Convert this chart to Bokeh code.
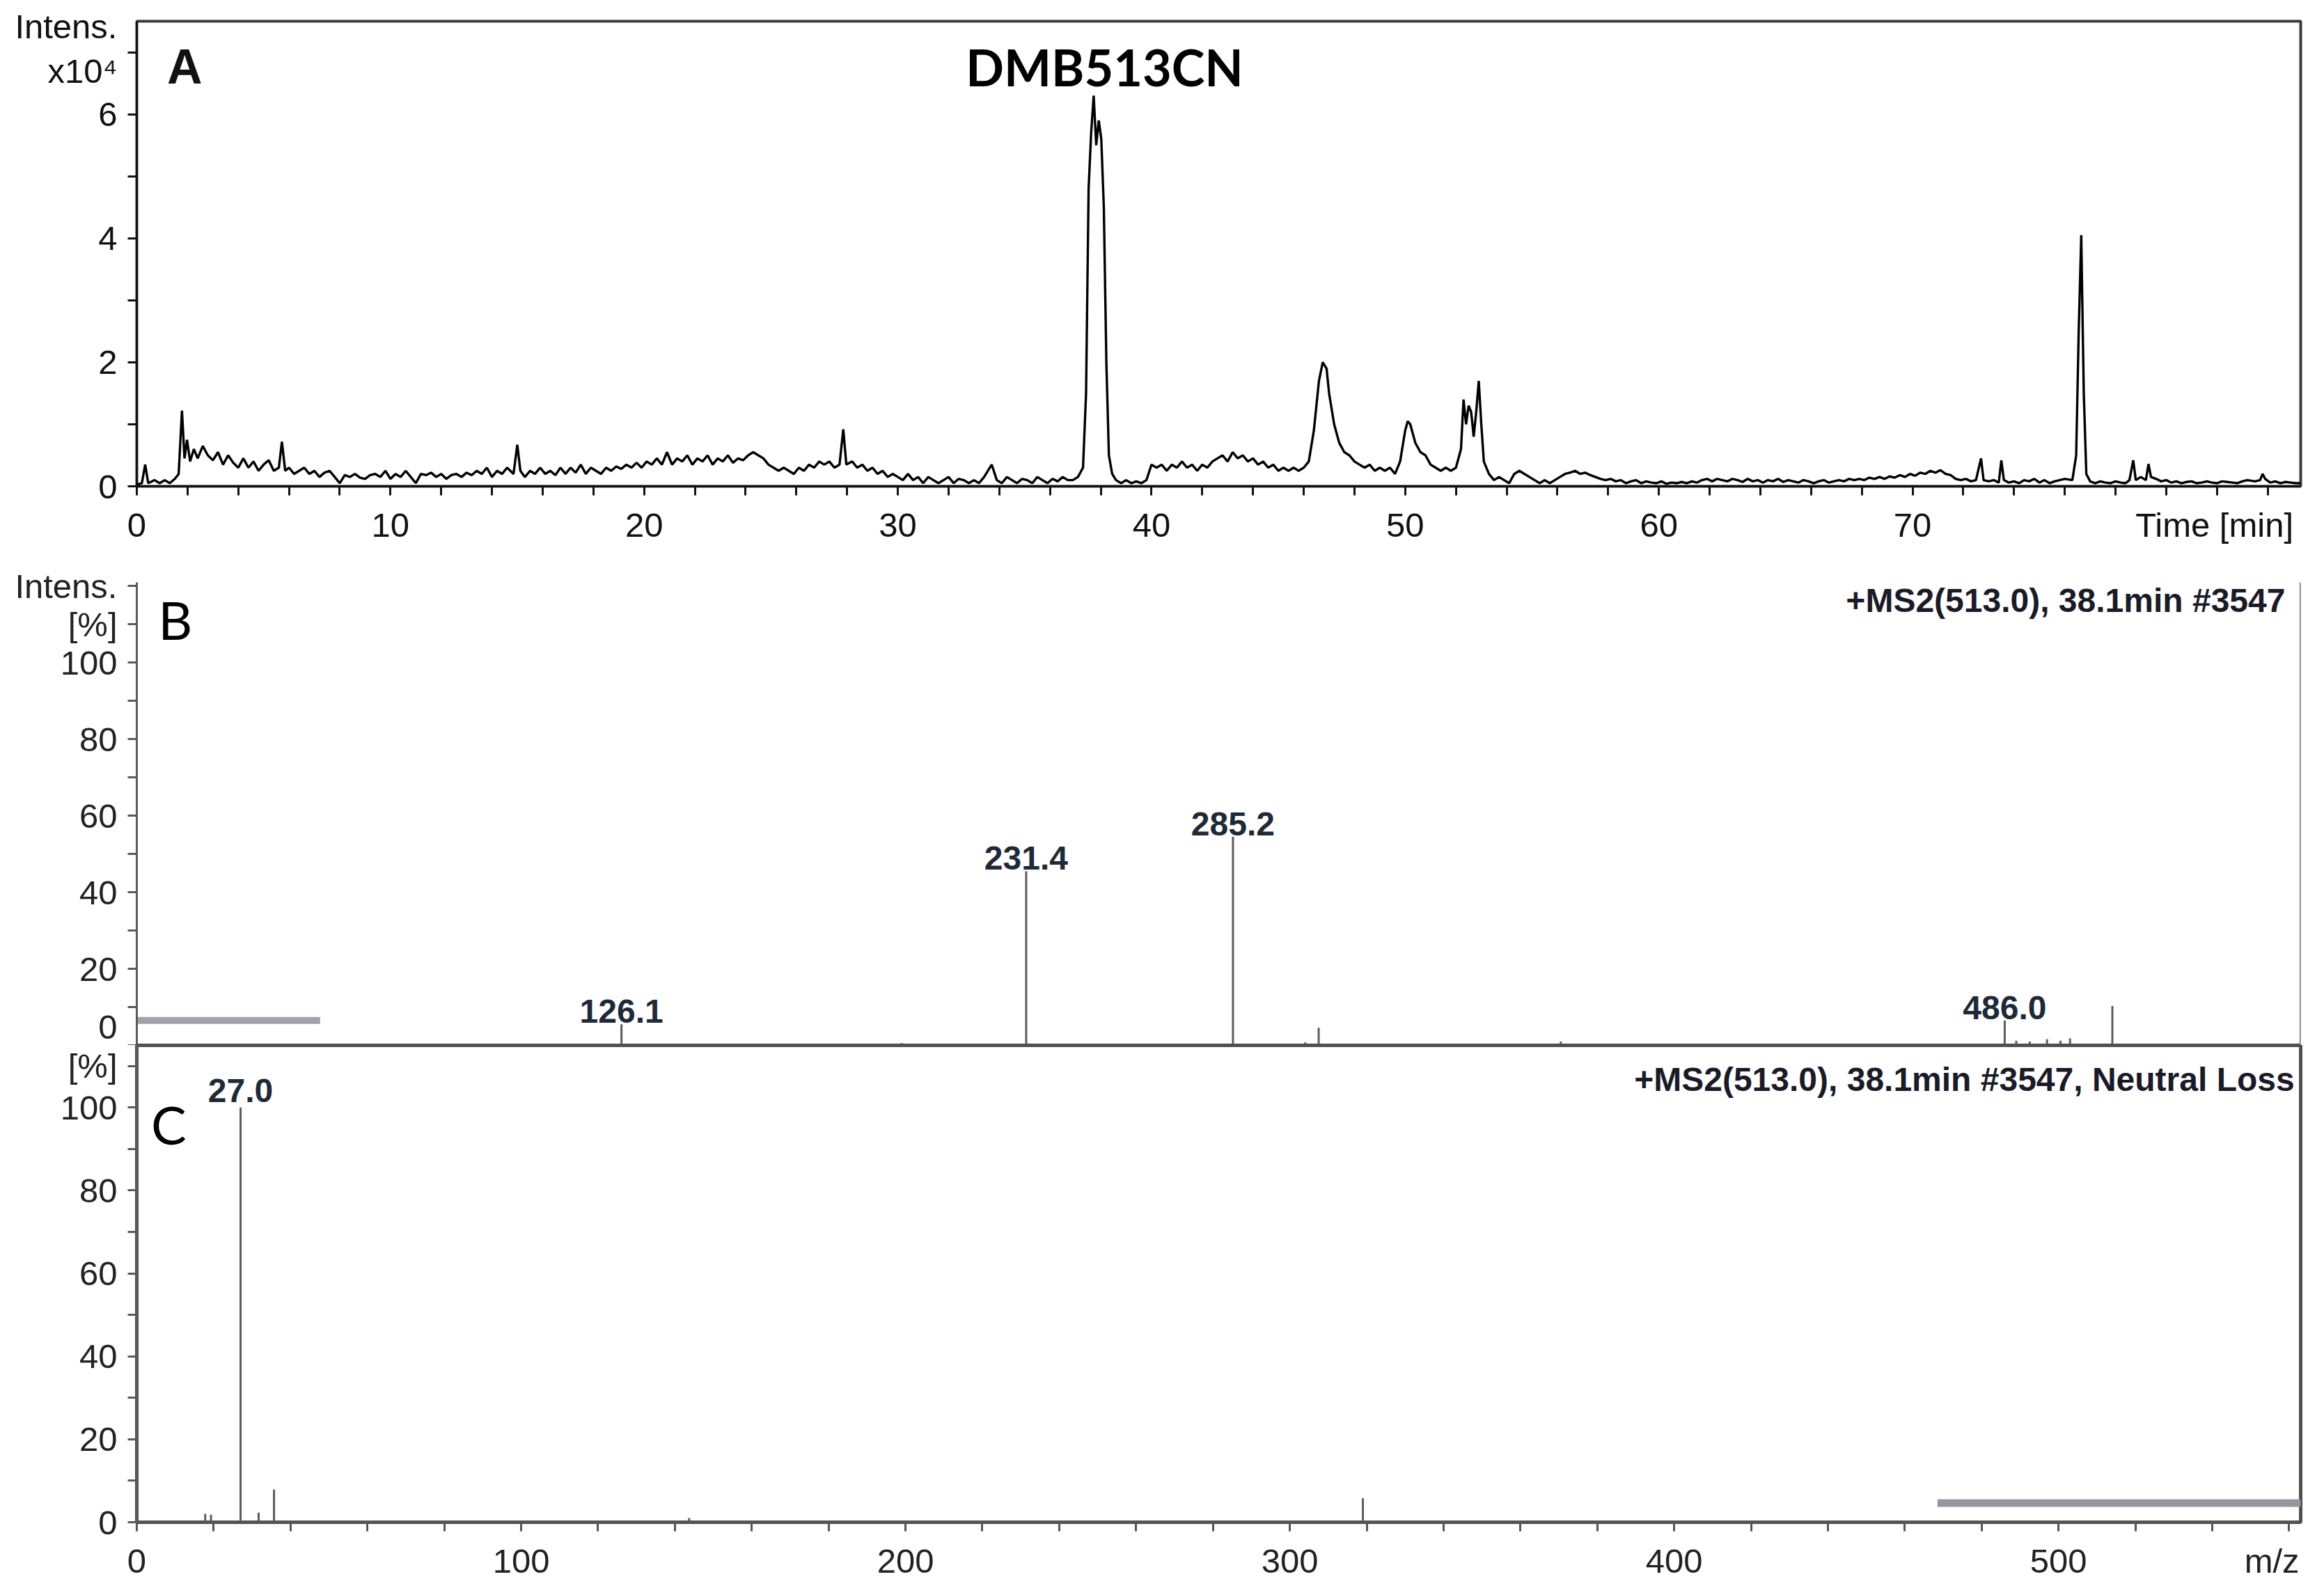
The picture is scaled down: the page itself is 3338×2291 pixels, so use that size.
from bokeh.plotting import figure
from bokeh.models import FixedTicker, Label, Span, Range1d, ColumnDataSource
from bokeh.layouts import column
from bokeh.embed import file_html
from bokeh.resources import INLINE
from bokeh.core.properties import value

# ---------------- DATA ----------------
# Panel A: chromatogram, time [min] vs intensity (x10^4)
chrom_time = [
    0.0, 0.2, 0.33, 0.45, 0.7, 0.9, 1.1, 1.3, 1.5, 1.65,
    1.78, 1.88, 1.98, 2.1, 2.25, 2.4, 2.6, 2.8, 3.0, 3.2,
    3.4, 3.6, 3.8, 4.0, 4.2, 4.4, 4.6, 4.8, 5.0, 5.2,
    5.4, 5.6, 5.72, 5.85, 6.0, 6.2, 6.4, 6.6, 6.8, 7.0,
    7.2, 7.4, 7.6, 7.8, 8.0, 8.2, 8.4, 8.6, 8.8, 9.0,
    9.2, 9.4, 9.6, 9.8, 10.0, 10.2, 10.4, 10.6, 10.8, 11.0,
    11.2, 11.4, 11.6, 11.8, 12.0, 12.2, 12.4, 12.6, 12.8, 13.0,
    13.2, 13.4, 13.6, 13.8, 14.0, 14.2, 14.4, 14.6, 14.85, 15.0,
    15.12, 15.3, 15.5, 15.7, 15.9, 16.1, 16.3, 16.5, 16.7, 16.9,
    17.1, 17.3, 17.5, 17.7, 17.9, 18.1, 18.3, 18.5, 18.7, 18.9,
    19.1, 19.3, 19.5, 19.7, 19.9, 20.1, 20.3, 20.5, 20.7, 20.9,
    21.1, 21.3, 21.5, 21.7, 21.9, 22.1, 22.3, 22.5, 22.7, 22.9,
    23.1, 23.3, 23.5, 23.7, 23.9, 24.1, 24.3, 24.5, 24.7, 24.9,
    25.1, 25.3, 25.5, 25.7, 25.9, 26.1, 26.3, 26.5, 26.7, 26.9,
    27.1, 27.3, 27.5, 27.7, 27.85, 27.97, 28.2, 28.4, 28.6, 28.8,
    29.0, 29.2, 29.4, 29.6, 29.8, 30.0, 30.2, 30.4, 30.6, 30.8,
    31.0, 31.2, 31.4, 31.6, 31.8, 32.0, 32.2, 32.4, 32.6, 32.8,
    33.0, 33.2, 33.4, 33.7, 33.9, 34.1, 34.3, 34.5, 34.7, 34.9,
    35.1, 35.3, 35.5, 35.7, 35.9, 36.1, 36.3, 36.5, 36.7, 36.9,
    37.1, 37.3, 37.42, 37.52, 37.62, 37.72, 37.82, 37.92, 38.02, 38.12,
    38.22, 38.32, 38.45, 38.6, 38.8, 39.0, 39.2, 39.4, 39.6, 39.8,
    40.0, 40.2, 40.4, 40.6, 40.8, 41.0, 41.2, 41.4, 41.6, 41.8,
    42.0, 42.2, 42.4, 42.6, 42.8, 43.0, 43.2, 43.4, 43.6, 43.8,
    44.0, 44.2, 44.4, 44.6, 44.8, 45.0, 45.2, 45.4, 45.6, 45.8,
    46.0, 46.2, 46.4, 46.6, 46.75, 46.9, 47.0, 47.2, 47.4, 47.6,
    47.8, 48.0, 48.2, 48.4, 48.6, 48.8, 49.0, 49.2, 49.4, 49.6,
    49.8, 50.0, 50.1, 50.2, 50.4, 50.6, 50.8, 51.0, 51.2, 51.4,
    51.6, 51.8, 52.0, 52.2, 52.3, 52.4, 52.5, 52.6, 52.7, 52.8,
    52.9, 53.0, 53.1, 53.3, 53.5, 53.7, 53.9, 54.1, 54.3, 54.5,
    54.7, 54.9, 55.1, 55.3, 55.5, 55.7, 55.9, 56.1, 56.3, 56.5,
    56.7, 56.9, 57.1, 57.3, 57.5, 57.7, 57.9, 58.1, 58.3, 58.5,
    58.7, 58.9, 59.1, 59.3, 59.5, 59.7, 59.9, 60.1, 60.3, 60.5,
    60.7, 60.9, 61.1, 61.3, 61.5, 61.7, 61.9, 62.1, 62.3, 62.5,
    62.7, 62.9, 63.1, 63.3, 63.5, 63.7, 63.9, 64.1, 64.3, 64.5,
    64.7, 64.9, 65.1, 65.3, 65.5, 65.7, 65.9, 66.1, 66.3, 66.5,
    66.7, 66.9, 67.1, 67.3, 67.5, 67.7, 67.9, 68.1, 68.3, 68.5,
    68.7, 68.9, 69.1, 69.3, 69.5, 69.7, 69.9, 70.1, 70.3, 70.5,
    70.7, 70.9, 71.1, 71.3, 71.5, 71.7, 71.9, 72.1, 72.3, 72.5,
    72.7, 72.8, 73.0, 73.2, 73.4, 73.5, 73.6, 73.8, 74.0, 74.2,
    74.4, 74.6, 74.8, 75.0, 75.2, 75.4, 75.6, 75.8, 76.0, 76.3,
    76.45, 76.55, 76.65, 76.75, 76.85, 77.0, 77.2, 77.4, 77.6, 77.8,
    78.0, 78.2, 78.4, 78.55, 78.7, 78.8, 79.0, 79.2, 79.3, 79.4,
    79.6, 79.8, 80.0, 80.2, 80.4, 80.6, 80.8, 81.0, 81.2, 81.4,
    81.6, 81.8, 82.0, 82.2, 82.4, 82.6, 82.8, 83.0, 83.2, 83.5,
    83.7, 83.8, 83.9, 84.1, 84.3, 84.5, 84.7, 84.9, 85.1, 85.3,
]
chrom_int = [
    0.03, 0.05, 0.35, 0.05, 0.1, 0.05, 0.1, 0.05, 0.12, 0.2,
    1.22, 0.45, 0.75, 0.4, 0.6, 0.45, 0.65, 0.5, 0.42, 0.55,
    0.35, 0.5, 0.38, 0.3, 0.45, 0.3, 0.4, 0.25, 0.35, 0.42,
    0.25, 0.3, 0.72, 0.25, 0.3, 0.2, 0.25, 0.3, 0.2, 0.25,
    0.15, 0.22, 0.25, 0.15, 0.05, 0.18, 0.15, 0.2, 0.14, 0.12,
    0.18, 0.2, 0.15, 0.25, 0.12, 0.2, 0.15, 0.25, 0.15, 0.05,
    0.2, 0.18, 0.22, 0.15, 0.2, 0.12, 0.18, 0.2, 0.15, 0.22,
    0.18, 0.25, 0.2, 0.3, 0.15, 0.25, 0.2, 0.3, 0.2, 0.67,
    0.25, 0.15, 0.25, 0.2, 0.3, 0.2, 0.25, 0.18, 0.3, 0.2,
    0.3, 0.22, 0.35, 0.2, 0.3, 0.25, 0.2, 0.3, 0.25, 0.32,
    0.28, 0.35, 0.3, 0.38, 0.3, 0.4, 0.35, 0.45, 0.35, 0.55,
    0.35, 0.45, 0.4, 0.5, 0.35, 0.45, 0.4, 0.5, 0.35, 0.45,
    0.4, 0.5, 0.38, 0.45, 0.42, 0.5, 0.55, 0.5, 0.45, 0.35,
    0.3, 0.25, 0.3, 0.25, 0.2, 0.3, 0.25, 0.35, 0.3, 0.4,
    0.35, 0.4, 0.3, 0.35, 0.92, 0.35, 0.4, 0.3, 0.35, 0.25,
    0.3, 0.2, 0.25, 0.15, 0.2, 0.15, 0.1, 0.2, 0.1, 0.15,
    0.05, 0.15, 0.1, 0.05, 0.1, 0.15, 0.05, 0.12, 0.1, 0.05,
    0.1, 0.05, 0.15, 0.35, 0.1, 0.05, 0.15, 0.1, 0.05, 0.12,
    0.1, 0.05, 0.15, 0.1, 0.05, 0.12, 0.08, 0.15, 0.1, 0.1,
    0.15, 0.3, 1.5, 4.8, 5.7, 6.3, 5.5, 5.9, 5.6, 4.5,
    2.0, 0.5, 0.2, 0.1, 0.05, 0.1, 0.05, 0.08, 0.05, 0.1,
    0.35, 0.3, 0.35, 0.25, 0.35, 0.3, 0.4, 0.3, 0.35, 0.25,
    0.35, 0.3, 0.4, 0.45, 0.5, 0.4, 0.55, 0.45, 0.5, 0.4,
    0.45, 0.35, 0.4, 0.3, 0.35, 0.25, 0.3, 0.25, 0.3, 0.25,
    0.3, 0.4, 0.9, 1.7, 2.0, 1.9, 1.5, 1.0, 0.7, 0.55,
    0.5, 0.4, 0.35, 0.3, 0.35, 0.25, 0.3, 0.25, 0.3, 0.2,
    0.4, 0.9, 1.05, 1.0, 0.7, 0.55, 0.5, 0.35, 0.3, 0.25,
    0.3, 0.25, 0.3, 0.6, 1.4, 1.0, 1.3, 1.2, 0.8, 1.2,
    1.7, 1.0, 0.4, 0.2, 0.1, 0.15, 0.1, 0.05, 0.2, 0.25,
    0.2, 0.15, 0.1, 0.05, 0.1, 0.05, 0.1, 0.15, 0.2, 0.22,
    0.25, 0.2, 0.22, 0.18, 0.15, 0.12, 0.1, 0.12, 0.08, 0.1,
    0.05, 0.08, 0.1, 0.05, 0.08, 0.06, 0.05, 0.08, 0.04, 0.06,
    0.05, 0.07, 0.05, 0.08, 0.06, 0.1, 0.12, 0.08, 0.12, 0.1,
    0.08, 0.12, 0.1, 0.07, 0.12, 0.08, 0.1, 0.06, 0.1, 0.08,
    0.12, 0.07, 0.1, 0.08, 0.06, 0.1, 0.08, 0.05, 0.08, 0.1,
    0.06, 0.08, 0.1, 0.08, 0.12, 0.1, 0.12, 0.1, 0.14, 0.12,
    0.15, 0.12, 0.16, 0.14, 0.18, 0.15, 0.2, 0.17, 0.22, 0.2,
    0.25, 0.22, 0.26, 0.2, 0.18, 0.12, 0.1, 0.12, 0.08, 0.1,
    0.45, 0.1, 0.08, 0.1, 0.06, 0.42, 0.1, 0.06, 0.08, 0.05,
    0.1, 0.08, 0.12, 0.06, 0.1, 0.05, 0.08, 0.1, 0.12, 0.1,
    0.5, 2.5, 4.05, 1.5, 0.2, 0.08, 0.05, 0.08, 0.06, 0.05,
    0.08, 0.06, 0.05, 0.1, 0.42, 0.1, 0.15, 0.1, 0.36, 0.15,
    0.12, 0.08, 0.1, 0.06, 0.08, 0.05, 0.07, 0.08, 0.05, 0.06,
    0.08, 0.06, 0.05, 0.08, 0.07, 0.06, 0.05, 0.08, 0.1, 0.08,
    0.1, 0.2, 0.12, 0.06, 0.08, 0.05, 0.07, 0.06, 0.05, 0.05,
]
# Panel A axes: labelled positions and their texts
a_xlabel_pos = [0, 10, 20, 30, 40, 50, 60, 70, 81.9]
a_xlabel_txt = {81.9: "Time [min]"}
a_xtickmarks = [0, 2, 4, 6, 8, 10, 12, 14, 16, 18, 20, 22, 24, 26, 28, 30, 32, 34, 36, 38, 40, 42,
                44, 46, 48, 50, 52, 54, 56, 58, 60, 62, 64, 66, 68, 70, 72, 74, 76, 78, 80, 82, 84]
a_ylabel_pos = [0, 2, 4, 6, 6.70, 7.42]
a_ylabel_txt = {6.70: "x10\u2074", 7.42: "Intens."}
a_ytickmarks = [0, 1, 2, 3, 4, 5, 6, 7]

# Panel B: MS2 spectrum (m/z vs relative intensity %)
ms2_mz = [126.1, 199.0, 231.4, 285.2, 304.0, 307.5, 370.5, 486.0, 489.0, 492.5, 497.0, 500.5, 503.0, 514.0]
ms2_int = [5.5, 0.6, 45.5, 54.5, 0.8, 4.6, 1.0, 6.5, 1.2, 1.0, 1.6, 1.2, 1.8, 10.3]
ms2_label_mz = [126.1, 231.4, 285.2, 486.0]
ms2_label_int = [5.5, 45.5, 54.5, 6.5]
ms2_label_txt = ["126.1", "231.4", "285.2", "486.0"]
ms2_iso_x = [0.0, 47.7]
ms2_iso_y = [6.5, 6.5]

# Panel C: neutral-loss spectrum
nl_mz = [17.8, 19.3, 27.0, 31.7, 35.7, 143.7, 319.0]
nl_int = [2.0, 1.8, 100.0, 2.3, 7.9, 1.0, 5.8]
nl_label_mz = [27.0]
nl_label_int = [100.0]
nl_label_txt = ["27.0"]
nl_iso_x = [468.5, 563.0]
nl_iso_y = [4.6, 4.6]

mz_label_pos = [0, 100, 200, 300, 400, 500, 555.5]
mz_label_txt = {555.5: "m/z"}
mz_tickmarks = [0, 20, 40, 60, 80, 100, 120, 140, 160, 180, 200, 220, 240, 260, 280, 300,
                320, 340, 360, 380, 400, 420, 440, 460, 480, 500, 520, 540, 560]
b_ylabel_pos = [0, 20, 40, 60, 80, 100, 110, 120]
b_ylabel_txt = {110: "[%]", 120: "Intens."}
c_ylabel_pos = [0, 20, 40, 60, 80, 100, 110]
c_ylabel_txt = {110: "[%]"}
pct_tickmarks = [0, 10, 20, 30, 40, 50, 60, 70, 80, 90, 100, 110, 120]

# ---------------- STYLE ----------------
SANS = "Liberation Sans"
FW = 3108
MZ_END = 563.0


def make_fig(x_end, y_end, frame_h, b_top, b_bottom, x_axis=True):
    p = figure(frame_width=FW, frame_height=frame_h,
               x_range=Range1d(0, x_end), y_range=Range1d(0, y_end),
               output_backend="svg", toolbar_location=None, title=None,
               min_border_left=196, min_border_right=26,
               min_border_top=b_top, min_border_bottom=b_bottom,
               x_axis_location="below" if x_axis else None,
               background_fill_color="white", border_fill_color="white")
    p.grid.visible = False
    p.outline_line_color = None
    return p


def style_axis(ax, label_pos, marks, color, lw, label_color, overrides=None):
    # labels on invisible major ticks, all tick marks drawn as minor ticks
    ax.ticker = FixedTicker(ticks=label_pos, minor_ticks=marks)
    ax.axis_line_color = color
    ax.axis_line_width = lw
    ax.major_tick_line_color = None
    ax.major_tick_out = 14
    ax.major_tick_in = 0
    ax.minor_tick_line_color = color
    ax.minor_tick_line_width = lw
    ax.minor_tick_out = 13
    ax.minor_tick_in = 0
    ax.major_label_text_font = SANS
    ax.major_label_text_font_size = "49px"
    ax.major_label_text_color = label_color
    ax.major_label_standoff = 14
    if overrides:
        ax.major_label_overrides = overrides


# ---------------- PANEL A ----------------
pA = make_fig(85.3, 7.5, 668, 30, 100)
pA.outline_line_color = "#3c3c3c"
pA.outline_line_width = 4
style_axis(pA.xaxis[0], a_xlabel_pos, a_xtickmarks, "#111111", 3, "#111111", a_xlabel_txt)
style_axis(pA.yaxis[0], a_ylabel_pos, a_ytickmarks, "#111111", 3, "#111111", a_ylabel_txt)
srcA = ColumnDataSource(dict(t=chrom_time, i=chrom_int))
pA.line("t", "i", source=srcA, line_color="black", line_width=3.4)

pA.add_layout(Label(x=1.89, y=6.76, text="A", text_align="center", text_baseline="middle",
                    text_font=SANS, text_font_style="bold", text_font_size="70px",
                    text_color="#111111"))
pA.add_layout(Label(x=38.15, y=6.76, text="DMB513CN", text_align="center", text_baseline="middle",
                    text_font="Lato", text_font_style="bold", text_font_size="72px",
                    text_color="#000000"))

# ---------------- PANEL B ----------------
pB = make_fig(MZ_END, 121, 665, 38, 0, x_axis=False)
style_axis(pB.yaxis[0], b_ylabel_pos, pct_tickmarks, "#5a5a5a", 3, "#222222", b_ylabel_txt)
srcB = ColumnDataSource(dict(mz=ms2_mz, i=ms2_int))
pB.segment(x0="mz", y0=0, x1="mz", y1="i", source=srcB, line_color="#5c5c5c", line_width=3)
pB.line(ms2_iso_x, ms2_iso_y, line_color="#a2a2aa", line_width=10)
srcBl = ColumnDataSource(dict(mz=ms2_label_mz, i=ms2_label_int, t=ms2_label_txt))
pB.text(x="mz", y="i", text="t", source=srcBl, text_align="center", text_baseline="bottom",
        y_offset=-2, text_font=value(SANS), text_font_style="bold",
        text_font_size=value("48px"), text_color="#1e2a38")
pB.add_layout(Span(location=MZ_END, dimension="height", line_color="#6a6a6a", line_width=3))
pB.add_layout(Span(location=0, dimension="width", line_color="#505050", line_width=5))
pB.add_layout(Label(x=559.0, y=116.3, text="+MS2(513.0), 38.1min #3547", text_align="right",
                    text_baseline="middle", text_font=SANS, text_font_style="bold",
                    text_font_size="48px", text_color="#1b1b28"))
pB.add_layout(Label(x=10.0, y=111.4, text="B", text_align="center", text_baseline="middle",
                    text_font="Lato", text_font_size="76px", text_color="#000000"))

# ---------------- PANEL C ----------------
pC = make_fig(MZ_END, 115, 685, 0, 92)
pC.outline_line_color = "#505050"
pC.outline_line_width = 5
style_axis(pC.xaxis[0], mz_label_pos, mz_tickmarks, "#555555", 3, "#222222", mz_label_txt)
style_axis(pC.yaxis[0], c_ylabel_pos, pct_tickmarks, "#5a5a5a", 3, "#222222", c_ylabel_txt)
srcC = ColumnDataSource(dict(mz=nl_mz, i=nl_int))
pC.segment(x0="mz", y0=0, x1="mz", y1="i", source=srcC, line_color="#5c5c5c", line_width=3)
pC.line(nl_iso_x, nl_iso_y, line_color="#96969e", line_width=11)
srcCl = ColumnDataSource(dict(mz=nl_label_mz, i=nl_label_int, t=nl_label_txt))
pC.text(x="mz", y="i", text="t", source=srcCl, text_align="center", text_baseline="bottom",
        y_offset=-8, text_font=value(SANS), text_font_style="bold",
        text_font_size=value("48px"), text_color="#1e2a38")
pC.add_layout(Label(x=561.4, y=106.7, text="+MS2(513.0), 38.1min #3547, Neutral Loss",
                    text_align="right", text_baseline="middle", text_font=SANS,
                    text_font_style="bold", text_font_size="48px", text_color="#1b1b28"))
pC.add_layout(Label(x=8.3, y=96.0, text="C", text_align="center", text_baseline="middle",
                    text_font="Lato", text_font_size="76px", text_color="#000000"))

layout = column(pA, pB, pC)
open("out.html", "w").write(file_html(layout, INLINE))
